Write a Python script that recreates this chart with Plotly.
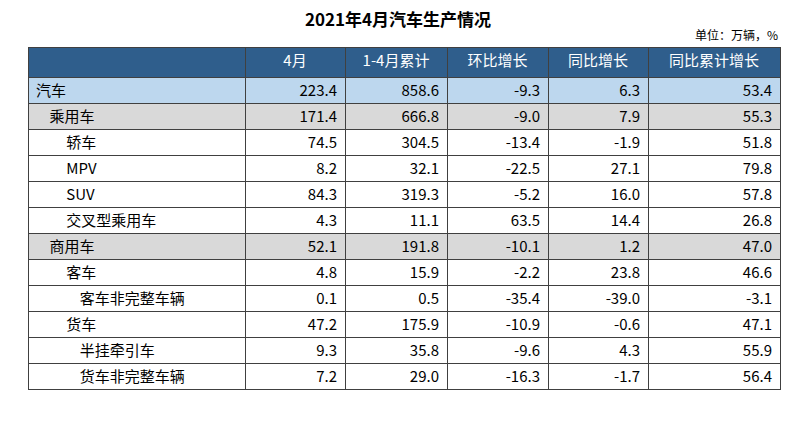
import plotly.graph_objects as go

headers = ["", "4月", "1-4月累计", "环比增长", "同比增长", "同比累计增长"]
names = ["汽车", "乘用车", "轿车", "MPV", "SUV", "交叉型乘用车", "商用车",
         "客车", "客车非完整车辆", "货车", "半挂牵引车", "货车非完整车辆"]
levels = [0, 1, 2, 2, 2, 2, 1, 2, 3, 2, 3, 3]
apr = [223.4, 171.4, 74.5, 8.2, 84.3, 4.3, 52.1, 4.8, 0.1, 47.2, 9.3, 7.2]
ytd = [858.6, 666.8, 304.5, 32.1, 319.3, 11.1, 191.8, 15.9, 0.5, 175.9, 35.8, 29.0]
mom = [-9.3, -9.0, -13.4, -22.5, -5.2, 63.5, -10.1, -2.2, -35.4, -10.9, -9.6, -16.3]
yoy = [6.3, 7.9, -1.9, 27.1, 16.0, 14.4, 1.2, 23.8, -39.0, -0.6, 4.3, -1.7]
yoy_ytd = [53.4, 55.3, 51.8, 79.8, 57.8, 26.8, 47.0, 46.6, -3.1, 47.1, 55.9, 56.4]

indent = {0: "", 1: "\u00a0" * 4, 2: "\u00a0" * 9, 3: "\u00a0" * 13}
label_col = [indent[l] + n for l, n in zip(levels, names)]

def fmt(vals):
    return [f"{v:.1f}" for v in vals]

# 汽车 light blue, 乘用车 / 商用车 gray, the rest white
row_fill = ["#BDD7EE" if l == 0 else ("#D9D9D9" if l == 1 else "white") for l in levels]

font = "Noto Sans CJK SC"

fig = go.Figure(go.Table(
    columnwidth=[217, 100, 102, 101, 100, 132],
    header=dict(
        values=headers,
        fill_color="#2F5E8C",
        line=dict(color="#404040", width=1),
        font=dict(color="white", size=15, family=font),
        align="center",
        height=30,
    ),
    cells=dict(
        values=[label_col, fmt(apr), fmt(ytd), fmt(mom), fmt(yoy), fmt(yoy_ytd)],
        fill_color=[row_fill] * 6,
        line=dict(color="#404040", width=1),
        font=dict(color="black", size=15, family=font),
        align=["left", "right", "right", "right", "right", "right"],
        height=26,
    ),
))

fig.update_layout(
    width=796, height=429,
    margin=dict(l=20, r=24, t=39, b=5),
    paper_bgcolor="white",
    title=dict(text="<b>2021年4月汽车生产情况</b>", x=0.49, xanchor="center",
               y=0.985, yanchor="top", font=dict(size=17, color="black", family=font)),
    annotations=[dict(text="单位：万辆，%", xref="paper", yref="paper",
                      x=1.0, y=1.0, xanchor="right", yanchor="bottom", yshift=2,
                      showarrow=False, font=dict(size=12, color="black", family=font))],
)

fig.write_html("out.html")
